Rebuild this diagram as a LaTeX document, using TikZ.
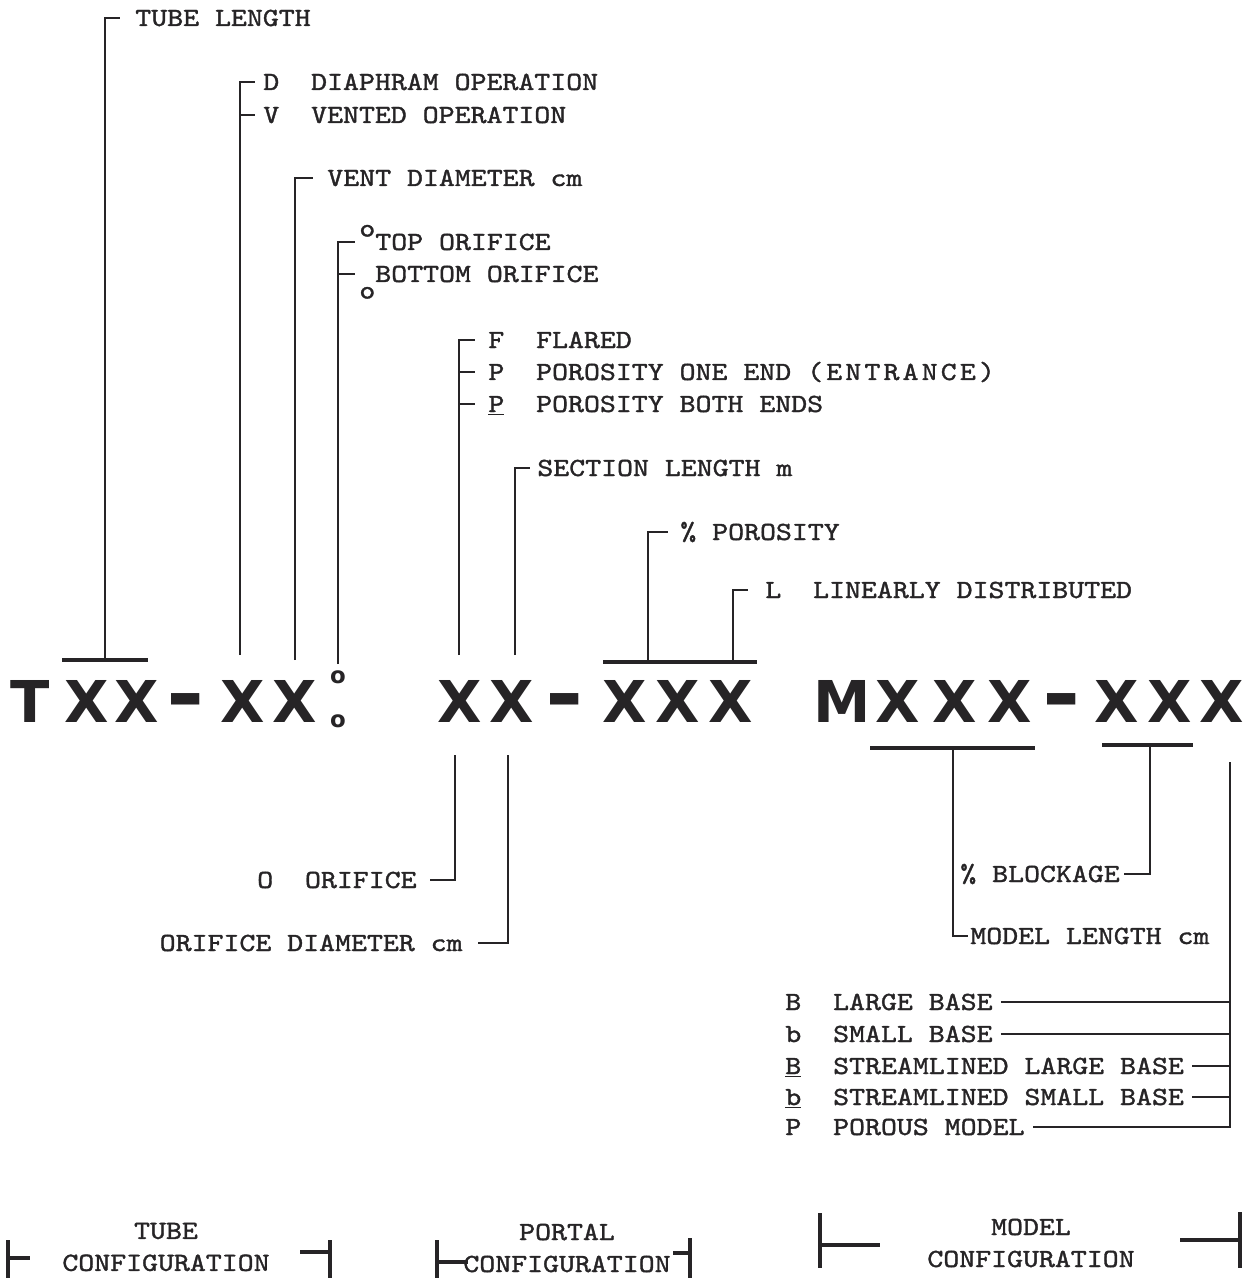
\documentclass[tikz,border=0pt]{standalone}
\usepackage{fontspec}
\usepackage{tikz}
\usetikzlibrary{positioning,calc}
\newfontfamily\twfam{lmmono10-regular.otf}[FakeStretch=1.16,FakeBold=1.4]
\newfontfamily\heavyfam{DejaVu Sans}
\definecolor{ink}{RGB}{38,36,38}
\newcommand\tw{\twfam\fontsize{14.9pt}{18.2pt}\selectfont}
\newcommand\heavy{\heavyfam\bfseries\fontsize{32.8pt}{36pt}\selectfont}
\newcommand\heavysmall{\heavyfam\bfseries\fontsize{13pt}{14pt}\selectfont}
\tikzset{
  lbl/.style={font=\tw, text=ink, inner sep=0pt, text height=9.1pt, text depth=0pt, anchor=west},
  lead/.style={draw=ink, line width=1.6pt},
  bar/.style={draw=ink, line width=2.4pt},
  glyph/.style={font=\heavy, text=ink, inner sep=0pt},
  dashglyph/.style={glyph, anchor=base},
  cfg/.style={font=\tw, text=ink, inner sep=0pt, align=center},
}

\begin{document}
\begin{tikzpicture}[x=0.02cm, y=-0.02cm]
  \useasboundingbox (0,0) rectangle (1257,1278);
  % code letters
  \foreach \cx/\ch [count=\i] in {30/T,87/X,137/X,243/X,295/X}
    \node[glyph] (tube\i) at (\cx,701) {\ch};
  \node[dashglyph] (tubedash) at (186,722) {\scalebox{1.6}[1.4]{-}};
  \node[font=\heavysmall, text=ink, inner sep=0pt] (osup) at (338,677) {o};
  \node[font=\heavysmall, text=ink, inner sep=0pt] (osub) at (338,721) {o};
  \foreach \cx/\ch [count=\i] in {460/X,512/X,625/X,678/X,731/X}
    \node[glyph] (port\i) at (\cx,701) {\ch};
  \node[dashglyph] (portdash) at (565,722) {\scalebox{1.6}[1.4]{-}};
  \foreach \cx/\ch [count=\i] in {842/M,898/X,955/X,1010/X,1117/X,1170/X,1222/X}
    \node[glyph] (mod\i) at (\cx,701) {\ch};
  \node[dashglyph] (moddash) at (1062,722) {\scalebox{1.6}[1.4]{-}};

  % tube leaders
  \node[lbl] (tlen) at (135,18) {TUBE LENGTH};
  \coordinate (tlenB) at (105,660);
  \draw[lead] (tlenB) |- ($(tlen.west)+(-15,0)$);
  \draw[bar] ($(tlenB)+(-43,0)$) -- ($(tlenB)+(43,0)$);

  \node[lbl] (diaph) at (263,82) {D\ \ DIAPHRAM OPERATION};
  \node[lbl] (vented) at (263,115) {V\ \ VENTED OPERATION};
  \coordinate (opB) at (240,655);
  \draw[lead] (opB) |- ($(diaph.west)+(-8,0)$);
  \draw[lead] (opB |- vented.west) -- ($(vented.west)+(-8,0)$);

  \node[lbl] (vdia) at (327,178) {VENT DIAMETER cm};
  \coordinate (vdiaB) at (295,660);
  \draw[lead] (vdiaB) |- ($(vdia.west)+(-14,0)$);

  \node[lbl] (otop) at (359,242) {\raisebox{7.7pt}{o}TOP ORIFICE};
  \node[lbl] (obot) at (359,274) {\raisebox{-9.4pt}{o}BOTTOM ORIFICE};
  \coordinate (oposB) at (338,664);
  \draw[lead] (oposB) |- ($(otop.west)+(-4,0)$);
  \draw[lead] (oposB |- obot.west) -- ($(obot.west)+(-4,0)$);

  % portal leaders
  \node[lbl] (flare) at (488,340) {F\ \ FLARED};
  \node[lbl] (pone) at (488,372) {P\ \ POROSITY ONE END {\addfontfeature{LetterSpace=12}(ENTRANCE)}};
  \node[lbl] (pboth) at (488,404) {\underline{P}\ \ POROSITY BOTH ENDS};
  \coordinate (entB) at (459,655);
  \draw[lead] (entB) |- ($(flare.west)+(-13,0)$);
  \foreach \nm in {pone,pboth}
    \draw[lead] (entB |- \nm.west) -- ($(\nm.west)+(-13,0)$);

  \node[lbl] (slen) at (537,468) {SECTION LENGTH m};
  \coordinate (slenB) at (515,655);
  \draw[lead] (slenB) |- ($(slen.west)+(-7,0)$);

  \node[lbl] (poro) at (680,532) {\%\ POROSITY};
  \coordinate (poroB) at (648,662);
  \draw[lead] (poroB) |- ($(poro.west)+(-12,0)$);
  \node[lbl] (lin) at (765,590) {L\ \ LINEARLY DISTRIBUTED};
  \coordinate (linB) at (733,662);
  \draw[lead] (linB) |- ($(lin.west)+(-17,0)$);
  \draw[bar] ($(poroB)+(-45,0)$) -- ($(linB)+(24,0)$);

  \node[lbl, anchor=east] (orif) at (417,880) {O\ \ ORIFICE};
  \coordinate (orifT) at (455,755);
  \draw[lead] (orifT) |- ($(orif.east)+(13,0)$);
  \node[lbl, anchor=east] (odia) at (463,943) {ORIFICE DIAMETER cm};
  \coordinate (odiaT) at (508,755);
  \draw[lead] (odiaT) |- ($(odia.east)+(15,0)$);

  % model leaders
  \coordinate (mlenT) at (953,748);
  \draw[bar] (870,748) -- (1035,748);
  \node[lbl] (mlen) at (970,936) {MODEL LENGTH cm};
  \draw[lead] (mlenT) |- ($(mlen.west)+(-2,0)$);
  \coordinate (blkT) at (1150,745);
  \draw[bar] (1102,745) -- (1193,745);
  \node[lbl] (blk) at (960,874) {\%\ BLOCKAGE};
  \draw[lead] (blkT) |- ($(blk.east)+(4,0)$);

  \node[lbl] (lbase) at (785,1002) {B\ \ LARGE BASE};
  \node[lbl] (sbase) at (785,1034) {b\ \ SMALL BASE};
  \node[lbl] (slbase) at (785,1066) {\underline{B}\ \ STREAMLINED LARGE BASE};
  \node[lbl] (ssbase) at (785,1097) {\underline{b}\ \ STREAMLINED SMALL BASE};
  \node[lbl] (pmod) at (785,1127) {P\ \ POROUS MODEL};
  \coordinate (shpT) at (1230,762);
  \draw[lead] (shpT) |- ($(pmod.east)+(8,0)$);
  \foreach \nm in {lbase,sbase,slbase,ssbase}
    \draw[lead] ($(\nm.east)+(8,0)$) -- (shpT |- \nm.east);

  % configuration brackets
  \node[cfg] (tubecfg) at (166,1247) {TUBE\\CONFIGURATION};
  \draw[bar] (8,1240) -- (8,1278);
  \draw[bar] (8,1258) -- (30,1258);
  \draw[bar] (300,1252) -- (330,1252);
  \draw[bar] (330,1240) -- (330,1278);

  \node[cfg] (portcfg) at (567,1248) {PORTAL\\CONFIGURATION};
  \draw[bar] (437,1240) -- (437,1278);
  \draw[bar] (437,1262) -- (468,1262);
  \draw[bar] (673,1253) -- (690,1253);
  \draw[bar] (690,1238) -- (690,1278);

  \node[cfg] (modcfg) at (1031,1243) {MODEL\\CONFIGURATION};
  \draw[bar] (820,1213) -- (820,1268);
  \draw[bar] (820,1245) -- (880,1245);
  \draw[bar] (1180,1240) -- (1240,1240);
  \draw[bar] (1240,1212) -- (1240,1268);
\end{tikzpicture}
\end{document}
